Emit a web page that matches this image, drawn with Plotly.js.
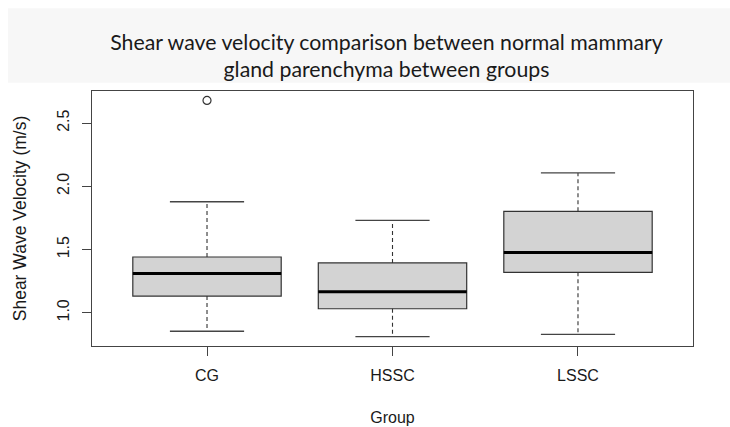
<!DOCTYPE html>
<html>
<head>
<meta charset="utf-8">
<script src="https://cdn.plot.ly/plotly-3.0.1.min.js"></script>
<style>html,body{margin:0;padding:0;background:#fff;}#chart{width:730px;height:427px;}</style>
</head>
<body>
<div id="chart"></div>
<script>
// ---- data ----
const groups = ["CG", "HSSC", "LSSC"];
const positions = [1, 2, 3];
const lowerWhisker = [0.854, 0.812, 0.830];
const q1 = [1.132, 1.032, 1.320];
const median = [1.310, 1.167, 1.476];
const q3 = [1.441, 1.394, 1.802];
const upperWhisker = [1.878, 1.730, 2.106];
const outlierGroup = [1];
const outlierValue = [2.679];

// ---- styling ----
const boxWidth = 0.8;
const capHalf = 0.2;
const axisFont = {family: "Liberation Sans, Arial, sans-serif", size: 16, color: "#1a1a1a"};
const yTitleFont = {family: "Liberation Sans, Arial, sans-serif", size: 17.5, color: "#1a1a1a"};

// R-like axis extents (4% padding)
const allVals = lowerWhisker.concat(upperWhisker, outlierValue);
const ymin = Math.min(...allVals), ymax = Math.max(...allVals);
const pad = 0.04 * (ymax - ymin);
const yRange = [ymin - pad, ymax + pad];
const xPad = 0.04 * (positions.length);
const xRange = [0.5 - xPad, positions.length + 0.5 + xPad];

const traces = [];

// boxes (whiskers drawn separately, dashed as in R)
traces.push({
  type: "box",
  x: positions,
  q1: q1, median: median, q3: q3,
  lowerfence: q1, upperfence: q3,
  width: boxWidth,
  fillcolor: "#d3d3d3",
  line: {color: "#333333", width: 1.2},
  whiskerwidth: 0,
  boxpoints: false,
  hoverinfo: "skip",
  showlegend: false
});

// dashed whiskers
const wx = [], wy = [];
positions.forEach((p, i) => {
  wx.push(p, p, null, p, p, null);
  wy.push(q3[i], upperWhisker[i], null, q1[i], lowerWhisker[i], null);
});
traces.push({
  type: "scatter", mode: "lines", x: wx, y: wy,
  line: {color: "#333333", width: 1.1, dash: "4px,3px"},
  hoverinfo: "skip", showlegend: false
});

// whisker caps
const cx = [], cy = [];
positions.forEach((p, i) => {
  cx.push(p - capHalf, p + capHalf, null, p - capHalf, p + capHalf, null);
  cy.push(upperWhisker[i], upperWhisker[i], null, lowerWhisker[i], lowerWhisker[i], null);
});
traces.push({
  type: "scatter", mode: "lines", x: cx, y: cy,
  line: {color: "#444444", width: 1.3},
  hoverinfo: "skip", showlegend: false
});

// thick medians
const mx = [], my = [];
positions.forEach((p, i) => {
  mx.push(p - boxWidth / 2, p + boxWidth / 2, null);
  my.push(median[i], median[i], null);
});
traces.push({
  type: "scatter", mode: "lines", x: mx, y: my,
  line: {color: "#000000", width: 3},
  hoverinfo: "skip", showlegend: false
});

// outliers
traces.push({
  type: "scatter", mode: "markers", x: outlierGroup, y: outlierValue,
  marker: {symbol: "circle-open", size: 8, color: "#333333", line: {width: 1.2}},
  hoverinfo: "skip", showlegend: false
});

const layout = {
  width: 730, height: 427,
  margin: {l: 92, r: 37, t: 91, b: 81},
  paper_bgcolor: "#ffffff",
  plot_bgcolor: "#ffffff",
  showlegend: false,
  hovermode: false,
  title: {
    text: "Shear wave velocity comparison between normal mammary<br>gland parenchyma between groups",
    font: {family: "Lato, 'Open Sans', sans-serif", size: 21.3, color: "#1a1a1a"},
    xref: "paper", x: 0.49, xanchor: "center",
    yref: "container", y: 0.884, yanchor: "middle"
  },
  shapes: [{
    type: "rect", xref: "paper", yref: "paper", layer: "below",
    x0: -0.1398, x1: 1.07, y0: 1.0326, y1: 1.3247,
    fillcolor: "#f7f7f7", line: {width: 0}
  }],
  xaxis: {
    range: xRange,
    tickmode: "array", tickvals: positions, ticktext: groups,
    ticks: "outside", ticklen: 9, tickwidth: 1, tickcolor: "#444",
    showline: true, mirror: true, linecolor: "#444", linewidth: 1,
    showgrid: false, zeroline: false,
    tickfont: axisFont, ticklabelstandoff: 6,
    title: {text: "Group", font: axisFont, standoff: 28}
  },
  yaxis: {
    range: yRange,
    tickmode: "linear", tick0: 1.0, dtick: 0.5, tickformat: ".1f",
    ticks: "outside", ticklen: 9, tickwidth: 1, tickcolor: "#444",
    showline: true, mirror: true, linecolor: "#444", linewidth: 1,
    showgrid: false, zeroline: false,
    tickangle: -90,
    tickfont: axisFont, ticklabelstandoff: 7,
    title: {text: "Shear Wave Velocity (m/s)", font: yTitleFont, standoff: 23}
  }
};

Plotly.newPlot("chart", traces, layout, {staticPlot: true, displayModeBar: false});
</script>
</body>
</html>
